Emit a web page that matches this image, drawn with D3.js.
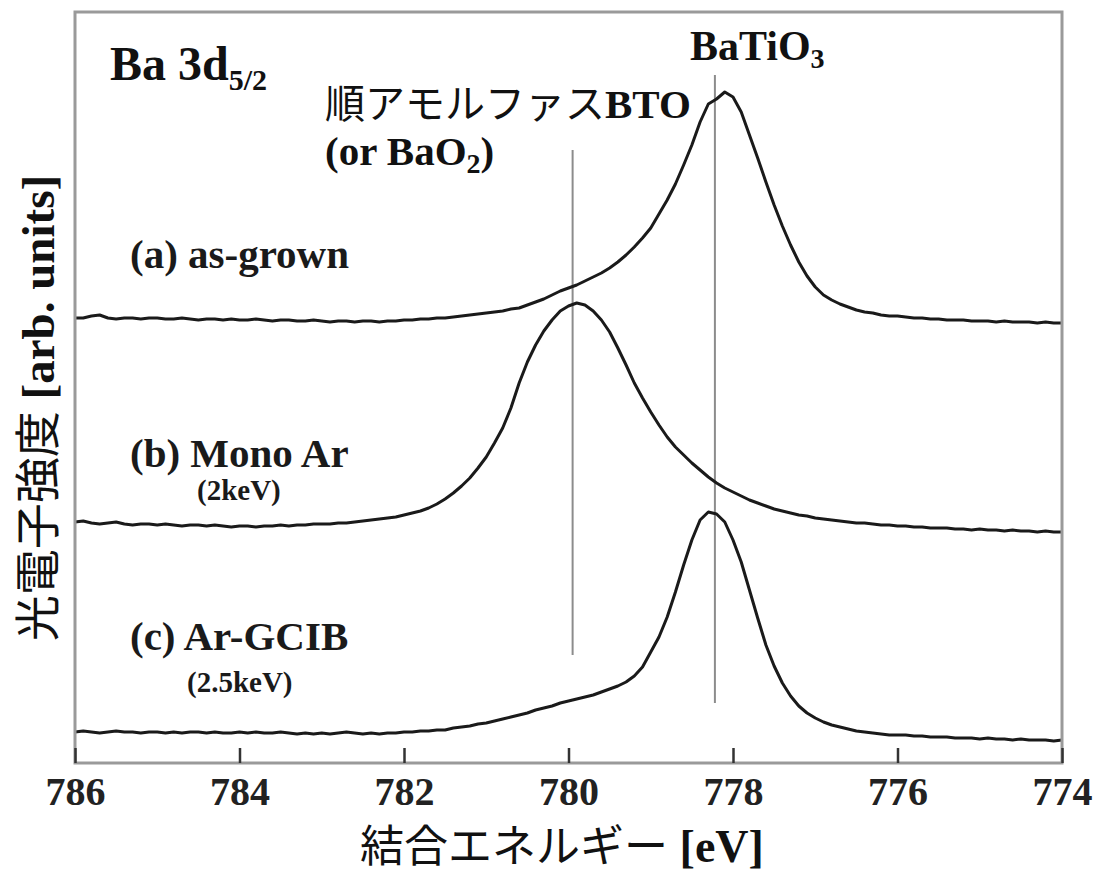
<!DOCTYPE html>
<html><head><meta charset="utf-8">
<script src="https://cdn.jsdelivr.net/npm/d3@7"></script>
<style>html,body{margin:0;padding:0;background:#fff;}svg{display:block;}</style>
</head><body>
<svg id="chart" width="1099" height="877"></svg>
<script>
// Binding energy grid (eV)
const energy = [
786.0,785.9,785.8,785.7,785.6,785.5,785.4,785.3,785.2,785.1,
785.0,784.9,784.8,784.7,784.6,784.5,784.4,784.3,784.2,784.1,
784.0,783.9,783.8,783.7,783.6,783.5,783.4,783.3,783.2,783.1,
783.0,782.9,782.8,782.7,782.6,782.5,782.4,782.3,782.2,782.1,
782.0,781.9,781.8,781.7,781.6,781.5,781.4,781.3,781.2,781.1,
781.0,780.9,780.8,780.7,780.6,780.5,780.4,780.3,780.2,780.1,
780.0,779.9,779.8,779.7,779.6,779.5,779.4,779.3,779.2,779.1,
779.0,778.9,778.8,778.7,778.6,778.5,778.4,778.3,778.2,778.1,
778.0,777.9,777.8,777.7,777.6,777.5,777.4,777.3,777.2,777.1,
777.0,776.9,776.8,776.7,776.6,776.5,776.4,776.3,776.2,776.1,
776.0,775.9,775.8,775.7,775.6,775.5,775.4,775.3,775.2,775.1,
775.0,774.9,774.8,774.7,774.6,774.5,774.4,774.3,774.2,774.1,
774.0];

// (a) as-grown, offset intensity (arb. units)
const asGrown = [
445,445,447,448,445,444,445,445,444,445,
445,444,444,445,444,443,444,444,443,444,
443,443,444,443,442,443,443,442,442,443,
442,441,442,442,441,442,442,441,442,442,
443,443,444,444,445,445,446,447,448,449,
450,451,452,454,455,458,461,464,468,472,
475,478,482,486,490,495,501,508,516,525,
535,549,563,579,598,618,641,659,664,671,
666,651,628,605,581,558,537,518,501,487,
476,468,463,459,456,453,451,450,448,447,
447,446,445,445,444,444,443,443,443,442,
442,442,441,442,441,441,441,440,441,440,
440];

// (b) Mono Ar (2keV)
const monoAr = [
241,242,240,239,240,241,239,238,239,239,
238,239,238,237,238,238,237,238,237,236,
237,237,236,237,237,238,237,238,238,239,
239,239,240,240,241,242,243,244,245,246,
248,250,252,255,259,264,270,277,285,295,
306,320,335,355,380,401,418,432,443,452,
457,460,458,452,443,431,415,398,380,365,
351,338,326,316,308,300,293,286,280,275,
271,267,263,260,257,254,252,250,248,247,
245,244,243,242,241,240,240,239,238,238,
237,237,236,236,235,235,235,234,234,233,
234,233,233,232,233,232,232,231,232,231,
231];

// (c) Ar-GCIB (2.5keV)
const arGCIB = [
31,32,31,30,31,32,31,31,30,31,
31,30,31,30,31,31,30,31,30,30,
31,30,31,30,30,31,30,29,30,29,
30,29,30,31,30,29,30,29,30,30,
31,31,32,32,33,33,35,36,37,39,
40,42,44,46,48,50,53,55,57,60,
62,64,66,68,71,74,77,81,87,96,
111,126,146,171,198,223,243,251,249,241,
223,201,173,145,118,97,80,67,57,50,
45,41,38,36,34,32,31,30,29,28,
28,28,27,27,26,26,26,25,25,25,
24,25,24,24,23,24,23,23,23,22,
23];

const xTicks = [786, 784, 782, 780, 778, 776, 774];
const seriesLabels = ["(a) as-grown", "(b) Mono Ar", "(c) Ar-GCIB"];
const seriesSubLabels = ["", "(2keV)", "(2.5keV)"];
const refEnergies = [779.95, 778.22];

const svg = d3.select("#chart");
const L = 75, R = 1062, T = 12, B = 763;
const SERIF = "'Liberation Serif','Times New Roman',serif";
const CJK = "'Noto Sans CJK JP','Noto Sans CJK SC',sans-serif";

const x = d3.scaleLinear().domain([786, 774]).range([L, R]);
const y = d3.scaleLinear().domain([0, 751]).range([B, T]);

// reference lines
const refSpans = [[108, 613], [60, 688]];
svg.selectAll("line.ref").data(refEnergies).join("line")
  .attr("class", "ref")
  .attr("x1", d => x(d)).attr("x2", d => x(d))
  .attr("y1", (d, i) => y(refSpans[i][0])).attr("y2", (d, i) => y(refSpans[i][1]))
  .attr("stroke", "#8c8c8c").attr("stroke-width", 2);

// curves
const line = d3.line().x(d => x(d[0])).y(d => y(d[1])).curve(d3.curveLinear);
[asGrown, monoAr, arGCIB].forEach(s => {
  svg.append("path")
    .datum(energy.map((e, i) => [e, s[i]]))
    .attr("d", line)
    .attr("fill", "none")
    .attr("stroke", "#1a1a1a")
    .attr("stroke-width", 3)
    .attr("stroke-linejoin", "round");
});

// frame
svg.append("rect").attr("x", L).attr("y", T).attr("width", R - L).attr("height", B - T)
  .attr("fill", "none").attr("stroke", "#9a9a9a").attr("stroke-width", 3);

// x axis
const ax = svg.append("g").attr("transform", `translate(0,${B})`)
  .call(d3.axisBottom(x).tickValues(xTicks).tickSizeInner(-15).tickSizeOuter(0).tickPadding(14).tickFormat(d3.format("d")));
ax.select(".domain").remove();
ax.selectAll(".tick line").attr("stroke", "#333").attr("stroke-width", 2.5);
ax.selectAll(".tick text").attr("font-family", SERIF).attr("font-weight", "bold")
  .attr("font-size", 40).attr("fill", "#222");

// x axis label
const xl = svg.append("text").attr("x", 562).attr("y", 862).attr("text-anchor", "middle").attr("fill", "#111");
xl.append("tspan").attr("font-family", CJK).attr("font-size", 44).text("結合エネルギー");
xl.append("tspan").attr("font-family", SERIF).attr("font-weight", "bold").attr("font-size", 46).text(" [eV]");

// y axis label
const yl = svg.append("text").attr("transform", "translate(54,408) rotate(-90)").attr("text-anchor", "middle").attr("fill", "#111");
yl.append("tspan").attr("font-family", CJK).attr("font-size", 46).text("光電子強度");
yl.append("tspan").attr("font-family", SERIF).attr("font-weight", "bold").attr("font-size", 47).text(" [arb. units]");

// title
const t = svg.append("text").attr("x", 110).attr("y", 80).attr("font-family", SERIF).attr("font-weight", "bold").attr("fill", "#111");
t.append("tspan").attr("font-size", 48).text("Ba 3d");
t.append("tspan").attr("font-size", 30).attr("dy", 10).text("5/2");

// BaTiO3
const bt = svg.append("text").attr("x", 690).attr("y", 60).attr("font-family", SERIF).attr("font-weight", "bold").attr("fill", "#111");
bt.append("tspan").attr("font-size", 42).text("BaTiO");
bt.append("tspan").attr("font-size", 28).attr("dy", 8).text("3");

// amorphous label
const am = svg.append("text").attr("x", 325).attr("y", 118).attr("fill", "#111");
am.append("tspan").attr("font-family", CJK).attr("font-size", 40).text("順アモルファス");
am.append("tspan").attr("font-family", SERIF).attr("font-weight", "bold").attr("font-size", 41).text("BTO");
const ob = svg.append("text").attr("x", 325).attr("y", 165).attr("font-family", SERIF).attr("font-weight", "bold").attr("fill", "#111");
ob.append("tspan").attr("font-size", 41).text("(or BaO");
ob.append("tspan").attr("font-size", 28).attr("dy", 8).text("2");
ob.append("tspan").attr("font-size", 41).attr("dy", -8).text(")");

// series labels
const labelY = [268, 467, 650];
const subPos = [[0, 0], [197, 500], [187, 692]];
seriesLabels.forEach((s, i) => {
  svg.append("text").attr("x", 130).attr("y", labelY[i]).attr("font-family", SERIF)
    .attr("font-weight", "bold").attr("font-size", 41).attr("fill", "#1a1a1a").text(s);
  if (seriesSubLabels[i]) {
    svg.append("text").attr("x", subPos[i][0]).attr("y", subPos[i][1]).attr("font-family", SERIF)
      .attr("font-weight", "bold").attr("font-size", 29).attr("fill", "#1a1a1a").text(seriesSubLabels[i]);
  }
});
</script>
</body></html>
